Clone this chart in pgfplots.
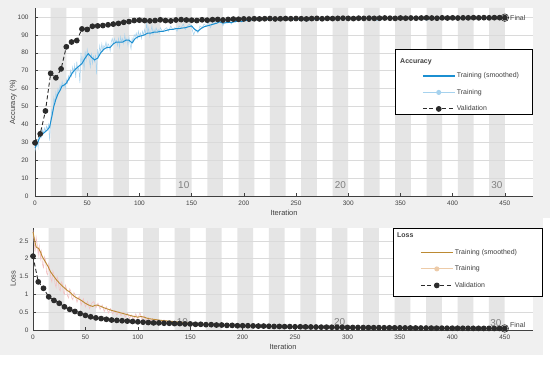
\documentclass[border=0pt]{standalone}
\usepackage{pgfplots}
\pgfplotsset{compat=1.18}
\usepackage{fontspec}
\setmainfont{Liberation Sans}
\definecolor{figgray}{HTML}{F0F0F0}
\definecolor{bandgray}{HTML}{E5E5E5}
\definecolor{gridgray}{HTML}{DADADA}
\definecolor{accblue}{HTML}{1B8FD1}
\definecolor{accraw}{HTML}{A6D2EE}
\definecolor{valgray}{HTML}{2B2B2B}
\definecolor{lossbrown}{HTML}{BC8A33}
\definecolor{lossraw}{HTML}{F3C2C4}
\definecolor{lossleg}{HTML}{EDCBA8}
\definecolor{txtgray}{HTML}{404040}
\definecolor{epochgray}{HTML}{808080}
\pgfplotsset{
  mtl/.style={
    scale only axis, clip=false,
    xmin=0, xmax=477, ymin=0,
    xtick={0,50,...,450},
    axis x line*=bottom, axis y line*=left,
    axis line style={-, txtgray, line width=0.6pt},
    tick align=inside, major tick length=3bp,
    tick style={txtgray, line width=0.5pt},
    ymajorgrids, grid style={gridgray, line width=0.5pt},
    /pgf/number format/assume math mode=true,
    tick label style={font=\fontsize{6.5}{7.5}\selectfont, text=txtgray},
    xticklabel style={yshift=-1.5bp},
    label style={font=\fontsize{7.5}{9}\selectfont, text=txtgray},
    legend cell align=left,
    legend image code/.code={\draw[mark repeat=2,mark phase=2,##1] plot coordinates {(0bp,0bp) (16bp,0bp) (32bp,0bp)};},
  },
  bands/.style={scale only axis, hide axis, xmin=0, xmax=477, ymin=0}
}
\begin{document}
\begin{tikzpicture}[x=1bp,y=1bp]
\fill[white] (0,0) rectangle (550,364);
\fill[figgray] (0,146) rectangle (550,364);
\fill[figgray] (0,9) rectangle (543,146);
\fill[white] (35,168) rectangle (533,356);
\fill[white] (33,34) rectangle (533,136);
% ---------------- Accuracy: epoch bands ----------------
\begin{axis}[bands, at={(35bp,168bp)}, anchor=south west, width=498bp, height=188bp, ymax=105]
\addplot[draw=none, fill=bandgray, const plot mark left] coordinates {
(0,0) (15,105) (30,0) (45,105) (60,0) (75,105) (90,0) (105,105) (120,0) (135,105) (150,0)
(165,105) (180,0) (195,105) (210,0) (225,105) (240,0) (255,105) (270,0) (285,105) (300,0)
(315,105) (330,0) (345,105) (360,0) (375,105) (390,0) (405,105) (420,0) (435,105) (450,0)} \closedcycle;
\end{axis}
% ---------------- Accuracy ----------------
\begin{axis}[mtl, at={(35bp,168bp)}, anchor=south west, width=498bp, height=188bp,
  ymax=105, ytick={0,10,...,100}, yticklabel style={xshift=-3bp},
  xlabel={Iteration}, ylabel={Accuracy (\%)},
  xlabel style={at={(rel axis cs:0.5,-0.09)}, anchor=center},
  ylabel style={at={(rel axis cs:-0.044,0.5)}, anchor=center},
  legend style={draw=none, fill=none, at={(rel axis cs:0.777,0.665)}, anchor=north west,
    inner sep=0pt, row sep=7bp, font=\fontsize{7}{8}\selectfont, text=txtgray,
    nodes={inner sep=1.5bp, text height=5bp, text depth=1.5bp}},
]
% training raw
\addplot[accraw, line width=0.5pt, forget plot] coordinates {
(0,25) (1,28) (2,31) (3,27) (4,34) (5,36) (6,33) (7,37) (8,35) (9,38) (10,36) (11,39) (12,37) (13,40) (14,31)
(15,42) (16,48) (17,45) (18,55) (19,52) (20,58) (21,55) (22,60) (23,58) (24,62) (25,60) (26,64) (27,61) (28,63) (29,60)
(30,65) (31,63) (32,67) (33,65) (34,70) (35,67) (36,72) (37,69) (38,73) (39,66) (40,75) (41,70) (42,72) (43,63) (44,80)
(45,73) (46,78) (47,70) (48,81) (49,76) (50,82) (51,79) (52,76) (53,72) (54,80) (55,74) (56,78) (57,75) (58,79) (59,68)
(60,82) (61,78) (62,84) (63,80) (64,85) (65,81) (66,84) (67,83) (68,86) (69,82) (70,85) (71,84) (72,81) (73,86) (74,88)
(75,85) (76,88) (77,86) (78,87) (79,84) (80,88) (81,83) (82,89) (83,86) (84,88) (85,85) (86,90) (87,86) (88,88) (89,84)
(90,89) (91,85) (92,82) (93,88) (94,86) (95,90) (96,89) (97,91) (98,88) (99,92) (100,89) (101,91) (102,88) (103,92) (104,90)
(105,93) (106,90) (107,97) (108,91) (109,94) (110,89) (111,92) (112,95) (113,90) (114,93) (115,91) (116,94) (117,92) (118,93) (119,91)
(120,94) (122,92) (124,93) (126,94) (128,92) (130,95) (132,93) (134,94) (136,92) (138,95) (140,94) (142,96) (144,93) (146,95) (148,96)
(150,94) (152,90) (154,93) (156,91) (158,95) (160,94) (162,96) (164,95) (166,97) (168,94) (170,97) (172,96) (174,98) (176,97) (178,99)
(180,95) (182,98) (184,97) (186,98) (188,96) (190,98) (192,97) (194,99) (196,98) (198,97) (200,99) (205,98) (210,99) (215,98) (220,99)
(225,98.5) (230,99) (235,98) (240,99) (245,99) (250,98.5) (255,99) (260,97.5) (265,99) (270,99) (275,98.5) (280,99.5) (285,99) (290,99)
(295,99.5) (300,99) (310,99.5) (320,99) (330,97.8) (335,99.5) (340,99) (350,99.5) (360,99) (370,99.5) (375,98) (380,99.5) (390,99.5)
(400,99) (410,99.5) (420,100) (430,99.5) (440,100) (450,99.6)};
% training smoothed
\addplot[accblue, line width=1pt, forget plot] coordinates {
(0,27) (2,29) (4,32) (6,34) (8,35) (10,36) (12,37) (14,38.5) (16,44) (18,50) (20,54) (22,57) (24,59) (26,61.5) (28,62) (30,63)
(33,66) (36,69) (39,71) (42,72.5) (45,74) (48,77) (51,79.5) (54,77.5) (57,76) (60,77) (63,80) (66,82) (69,83) (72,83) (75,85)
(78,86) (81,86) (84,86) (87,87) (90,87) (93,85.5) (96,88) (99,89) (102,89.5) (105,90) (108,91) (111,91) (114,91.5) (117,91.5)
(120,92) (123,92) (126,92.5) (129,93) (132,93) (135,93.5) (138,93.5) (141,93.8) (144,94) (147,94.5) (150,95) (153,93) (156,92)
(159,93.5) (162,94.5) (165,95) (168,95.5) (171,96) (174,96.5) (177,97.3) (180,96.5) (183,96.8) (186,97) (189,97) (192,97.5)
(195,97.8) (198,97.5) (201,98) (205,98.2) (210,98.5) (220,98.6) (230,98.7) (240,98.8) (250,98.8) (260,98.5) (270,98.9) (280,99)
(290,99) (300,99.1) (310,99.1) (320,99.2) (330,99.2) (340,99.2) (350,99.3) (360,99.3) (370,99.3) (380,99.4) (390,99.4) (400,99.4)
(410,99.5) (420,99.5) (430,99.5) (440,99.5) (450,99.6)};
% validation
\addplot[valgray, line width=0.9pt, dash pattern=on 4bp off 2.5bp, mark=*, mark size=2.4bp,
  mark options={solid, fill=valgray, draw=valgray}, forget plot] coordinates {
(0,29.7) (5,34.7) (10,47.5) (15,68.5) (20,66) (25,71) (30,83.3) (35,86) (40,86.8) (45,93.3) (50,93) (55,94.8) (60,95) (65,95.2)
(70,95.6) (75,96) (80,96.4) (85,97) (90,97.4) (95,98) (100,98.2) (105,98) (110,97.8) (115,98) (120,98.4) (125,98) (130,97.8)
(135,98.3) (140,98.5) (145,98.3) (150,98.2) (155,98) (160,98.4) (165,98.2) (170,98.5) (175,98.6) (180,98.3) (185,98.6) (190,98.8)
(195,98.7) (200,98.9) (205,98.8) (210,99) (215,98.9) (220,99) (225,99.1) (230,98.9) (235,99) (240,99.1) (245,99) (250,99.1)
(255,99) (260,98.9) (265,99.1) (270,99.2) (275,99) (280,99.2) (285,99.1) (290,99.2) (295,99.3) (300,99.2) (305,99.1) (310,99.3)
(315,99.2) (320,99.3) (325,99.2) (330,99.3) (335,99.4) (340,99.3) (345,99.2) (350,99.4) (355,99.3) (360,99.4) (365,99.3)
(370,99.4) (375,99.5) (380,99.4) (385,99.3) (390,99.5) (395,99.4) (400,99.5) (405,99.4) (410,99.5) (415,99.5) (420,99.6)
(425,99.5) (430,99.6) (435,99.5) (440,99.6) (445,99.6) (450,99.6)};
\addplot[only marks, mark=o, mark size=3.8bp, valgray, line width=0.6pt, forget plot] coordinates {(450,99.6)};
\node[anchor=west, inner sep=0pt, font=\fontsize{7}{8}\selectfont, text=txtgray] at (axis cs:455,99.6) {Final};
\node[anchor=base east, inner sep=0pt, font=\fontsize{10}{11}\selectfont, text=epochgray] at (axis cs:148,4) {10};
\node[anchor=base east, inner sep=0pt, font=\fontsize{10}{11}\selectfont, text=epochgray] at (axis cs:298,4) {20};
\node[anchor=base east, inner sep=0pt, font=\fontsize{10}{11}\selectfont, text=epochgray] at (axis cs:448,4) {30};
\draw[black, line width=0.9pt, fill=white] (rel axis cs:0.723,0.782) rectangle (rel axis cs:0.998,0.436);
\node[anchor=west, inner sep=0pt, font=\bfseries\fontsize{7}{8}\selectfont, text=txtgray] at (rel axis cs:0.733,0.714) {Accuracy};
\addlegendimage{draw=accblue, color=accblue, line width=1.2pt}
\addlegendentry{Training (smoothed)}
\addlegendimage{accraw, line width=1pt, mark=*, mark size=2bp, mark options={fill=accraw, draw=accraw}}
\addlegendentry{Training}
\addlegendimage{valgray, line width=0.9pt, dash pattern=on 4bp off 2.5bp, mark=*, mark size=2.4bp, mark options={solid, fill=valgray}}
\addlegendentry{Validation}
\end{axis}
% ---------------- Loss: epoch bands ----------------
\begin{axis}[bands, at={(33bp,34bp)}, anchor=south west, width=500bp, height=102bp, ymax=2.86]
\addplot[draw=none, fill=bandgray, const plot mark left] coordinates {
(0,0) (15,2.86) (30,0) (45,2.86) (60,0) (75,2.86) (90,0) (105,2.86) (120,0) (135,2.86) (150,0)
(165,2.86) (180,0) (195,2.86) (210,0) (225,2.86) (240,0) (255,2.86) (270,0) (285,2.86) (300,0)
(315,2.86) (330,0) (345,2.86) (360,0) (375,2.86) (390,0) (405,2.86) (420,0) (435,2.86) (450,0)} \closedcycle;
\end{axis}
% ---------------- Loss ----------------
\begin{axis}[mtl, at={(33bp,34bp)}, anchor=south west, width=500bp, height=102bp,
  ymax=2.86, ytick={0,0.5,1,1.5,2,2.5}, yticklabels={0,0.5,1,1.5,2,2.5}, yticklabel style={xshift=-1bp},
  xlabel={Iteration}, ylabel={Loss},
  xlabel style={at={(rel axis cs:0.5,-0.167)}, anchor=center},
  ylabel style={at={(rel axis cs:-0.04,0.5)}, anchor=center},
  legend style={draw=none, fill=none, at={(rel axis cs:0.774,0.809)}, anchor=north west,
    inner sep=0pt, row sep=7bp, font=\fontsize{7}{8}\selectfont, text=txtgray,
    nodes={inner sep=1.5bp, text height=5bp, text depth=1.5bp}},
]
% training raw
\addplot[lossraw, line width=0.6pt, forget plot] coordinates {
(0,2.8) (1,2.5) (2,2.2) (3,2.6) (4,2.4) (5,2.1) (6,2.35) (7,2.0) (8,2.2) (9,1.85) (10,1.75) (11,2.05) (12,1.95) (13,1.6) (14,1.55)
(15,1.85) (16,1.7) (17,1.45) (18,1.35) (19,1.65) (20,1.55) (21,1.3) (22,1.2) (23,1.5) (24,1.4) (25,1.15) (26,1.1) (27,1.35)
(28,1.3) (29,1.05) (30,1.0) (31,1.25) (32,1.15) (33,0.95) (34,0.9) (35,1.15) (36,1.1) (37,0.9) (38,0.85) (39,1.05) (40,1.0)
(42,0.78) (44,0.95) (46,0.7) (48,0.88) (50,0.65) (52,0.8) (54,0.6) (56,0.75) (58,0.8) (60,0.62) (62,0.75) (64,0.58) (66,0.7)
(68,0.52) (70,0.65) (72,0.48) (74,0.6) (76,0.45) (78,0.55) (80,0.42) (82,0.52) (84,0.4) (86,0.5) (88,0.36) (90,0.47) (92,0.33)
(94,0.42) (96,0.3) (98,0.45) (100,0.32) (102,0.48) (104,0.3) (106,0.4) (108,0.26) (110,0.35) (112,0.24) (114,0.32) (116,0.22)
(118,0.3) (120,0.2) (125,0.28) (130,0.2) (135,0.25) (140,0.17) (145,0.23) (150,0.15) (155,0.2) (160,0.13) (170,0.18) (180,0.11)
(190,0.15) (200,0.1) (210,0.13) (220,0.08) (230,0.11) (240,0.07) (250,0.1) (260,0.06) (270,0.08) (280,0.05) (300,0.07)
(320,0.04) (340,0.06) (360,0.04) (380,0.05) (400,0.03) (420,0.04) (450,0.03)};
% training smoothed
\addplot[lossbrown, line width=0.9pt, forget plot] coordinates {
(0,2.75) (1,2.6) (2,2.45) (3,2.33) (4,2.3) (5,2.3) (6,2.25) (7,2.2) (8,2.12) (9,2.05) (10,2.0) (12,1.9) (14,1.8) (15,1.74)
(17,1.62) (20,1.5) (22,1.42) (25,1.32) (28,1.23) (30,1.18) (33,1.1) (35,1.07) (38,0.98) (40,0.93) (43,0.88) (45,0.85) (48,0.79)
(50,0.75) (53,0.7) (55,0.68) (57,0.66) (59,0.69) (61,0.7) (63,0.68) (65,0.66) (68,0.62) (70,0.6) (75,0.55) (80,0.51) (85,0.47)
(90,0.43) (95,0.39) (100,0.36) (103,0.38) (106,0.36) (110,0.32) (115,0.3) (120,0.28) (125,0.26) (130,0.25) (140,0.22) (150,0.19)
(160,0.17) (170,0.16) (180,0.14) (190,0.13) (200,0.12) (225,0.1) (250,0.09) (275,0.08) (300,0.065) (350,0.055) (400,0.045) (450,0.04)};
% validation
\addplot[valgray, line width=0.9pt, dash pattern=on 4bp off 2.5bp, mark=*, mark size=2.4bp,
  mark options={solid, fill=valgray, draw=valgray}, forget plot] coordinates {
(0,2.07) (5,1.35) (10,1.17) (15,0.93) (20,0.83) (25,0.75) (30,0.65) (35,0.58) (40,0.52) (45,0.46) (50,0.41) (55,0.37) (60,0.34)
(65,0.32) (70,0.3) (75,0.28) (80,0.27) (85,0.26) (90,0.25) (95,0.24) (100,0.23) (105,0.22) (110,0.21) (115,0.2) (120,0.2)
(125,0.19) (130,0.19) (135,0.18) (140,0.18) (145,0.17) (150,0.17) (155,0.16) (160,0.16) (165,0.15) (170,0.15) (175,0.14)
(180,0.14) (185,0.13) (190,0.13) (195,0.12) (200,0.12) (205,0.12) (210,0.115) (215,0.11) (220,0.11) (225,0.105) (230,0.1)
(235,0.1) (240,0.095) (245,0.095) (250,0.09) (255,0.09) (260,0.088) (265,0.085) (270,0.083) (275,0.08) (280,0.08) (285,0.078)
(290,0.075) (295,0.075) (300,0.073) (305,0.07) (310,0.07) (315,0.068) (320,0.067) (325,0.065) (330,0.065) (335,0.063)
(340,0.062) (345,0.06) (350,0.06) (355,0.058) (360,0.057) (365,0.056) (370,0.055) (375,0.054) (380,0.053) (385,0.052)
(390,0.051) (395,0.05) (400,0.05) (405,0.049) (410,0.048) (415,0.047) (420,0.046) (425,0.046) (430,0.045) (435,0.045)
(440,0.044) (445,0.044) (450,0.043)};
\addplot[only marks, mark=o, mark size=3.8bp, valgray, line width=0.6pt, forget plot] coordinates {(450,0.043)};
\node[anchor=south west, inner sep=0pt, font=\fontsize{7}{8}\selectfont, text=txtgray] at (axis cs:455,0.07) {Final};
\node[anchor=base east, inner sep=0pt, font=\fontsize{10}{11}\selectfont, text=epochgray] at (axis cs:148,0.14) {10};
\node[anchor=base east, inner sep=0pt, font=\fontsize{10}{11}\selectfont, text=epochgray] at (axis cs:298,0.14) {20};
\node[anchor=base east, inner sep=0pt, font=\fontsize{10}{11}\selectfont, text=epochgray] at (axis cs:447,0.1) {30};
\draw[black, line width=0.9pt, fill=white] (rel axis cs:0.72,1.0) rectangle (rel axis cs:1.018,0.333);
\node[anchor=west, inner sep=0pt, font=\bfseries\fontsize{7}{8}\selectfont, text=txtgray] at (rel axis cs:0.728,0.93) {Loss};
\addlegendimage{draw=lossbrown, color=lossbrown, line width=1.2pt}
\addlegendentry{Training (smoothed)}
\addlegendimage{lossleg, line width=1pt, mark=*, mark size=2bp, mark options={fill=lossleg, draw=lossleg}}
\addlegendentry{Training}
\addlegendimage{valgray, line width=0.9pt, dash pattern=on 4bp off 2.5bp, mark=*, mark size=2.4bp, mark options={solid, fill=valgray}}
\addlegendentry{Validation}
\end{axis}
\end{tikzpicture}
\end{document}
